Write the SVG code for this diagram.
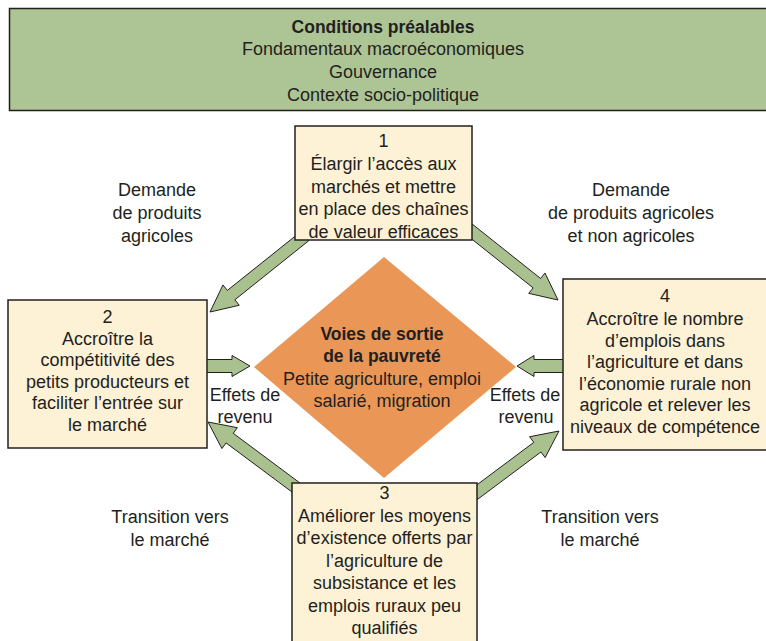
<svg xmlns="http://www.w3.org/2000/svg" width="766" height="641" viewBox="0 0 766 641">
<style>
text{font-family:"Liberation Sans",Arial,sans-serif;font-size:18px;fill:#231f20;text-anchor:middle}
.b{font-weight:bold;font-size:17.5px}
.box{fill:#fdf1d6;stroke:#231f20;stroke-width:1.5}
.arr{fill:#a9c18f;stroke:#231f20;stroke-width:1;stroke-linejoin:miter}
</style>
<rect width="766" height="641" fill="#ffffff"/>
<g id="preconditions">
<rect x="9.5" y="8.5" width="770" height="102" fill="#adc494" stroke="#231f20" stroke-width="1.5"/>
<text class="b" x="383" y="33">Conditions préalables</text>
<text x="383" y="55">Fondamentaux macroéconomiques</text>
<text x="383" y="78">Gouvernance</text>
<text x="383" y="101">Contexte socio-politique</text>
</g>
<g id="connectors">
<polygon class="arr" points="301.25,231.31 227.35,290.41 222.97,284.95 210,312 239.23,305.25 234.85,299.79 308.75,240.69"/>
<polygon class="arr" points="461.26,230.70 533.13,287.89 528.78,293.36 558,300 544.96,273.02 540.61,278.49 468.74,221.30"/>
<polygon class="arr" points="305.58,487.19 233.23,433.31 237.41,427.69 208,422 221.89,448.55 226.07,442.93 298.42,496.81"/>
<polygon class="arr" points="471.59,503.81 540.96,451.98 545.16,457.58 559,431 529.58,436.76 533.78,442.36 464.41,494.19"/>
<polygon class="arr" points="200,359.5 232,359.5 232,355.5 250,366 232,376.5 232,372.5 200,372.5"/>
<polygon class="arr" points="570,359.5 534,359.5 534,355.5 517,366 534,376.5 534,372.5 570,372.5"/>
</g>
<g id="labels">
<text x="157" y="196">Demande</text>
<text x="157" y="219">de produits</text>
<text x="157" y="242">agricoles</text>
<text x="631" y="196">Demande</text>
<text x="631" y="219">de produits agricoles</text>
<text x="631" y="242">et non agricoles</text>
<text x="245" y="401">Effets de</text>
<text x="245" y="423">revenu</text>
<text x="525" y="401">Effets de</text>
<text x="526" y="423">revenu</text>
<text x="170" y="523">Transition vers</text>
<text x="170" y="546">le marché</text>
<text x="600" y="523">Transition vers</text>
<text x="600" y="546">le marché</text>
</g>
<g id="center">
<polygon points="384,257 516,367 384,478 254,367" fill="#e99657"/>
<text class="b" x="382" y="340">Voies de sortie</text>
<text class="b" x="382" y="362">de la pauvreté</text>
<text x="382" y="385">Petite agriculture, emploi</text>
<text x="382" y="407">salarié, migration</text>
</g>
<g id="node1">
<rect class="box" x="295" y="126" width="177" height="114"/>
<text x="383.5" y="147">1</text>
<text x="383.5" y="170">Élargir l’accès aux</text>
<text x="383.5" y="192.5">marchés et mettre</text>
<text x="383.5" y="215">en place des chaînes</text>
<text x="383.5" y="237.5">de valeur efficaces</text>
</g>
<g id="node2">
<rect class="box" x="8" y="300" width="199" height="148"/>
<text x="107.5" y="323">2</text>
<text x="107.5" y="344.5">Accroître la</text>
<text x="107.5" y="366">compétitivité des</text>
<text x="107.5" y="387.5">petits producteurs et</text>
<text x="107.5" y="409">faciliter l’entrée sur</text>
<text x="107.5" y="430.5">le marché</text>
</g>
<g id="node4">
<rect class="box" x="563" y="279" width="212" height="171"/>
<text x="665" y="302">4</text>
<text x="665" y="325">Accroître le nombre</text>
<text x="665" y="346.5">d’emplois dans</text>
<text x="665" y="368">l’agriculture et dans</text>
<text x="665" y="389.5">l’économie rurale non</text>
<text x="665" y="411">agricole et relever les</text>
<text x="665" y="432.5">niveaux de compétence</text>
</g>
<g id="node3">
<rect class="box" x="292" y="483" width="185" height="170"/>
<text x="384.5" y="499">3</text>
<text x="384.5" y="521.5">Améliorer les moyens</text>
<text x="384.5" y="544">d’existence offerts par</text>
<text x="384.5" y="566.5">l’agriculture de</text>
<text x="384.5" y="589">subsistance et les</text>
<text x="384.5" y="611.5">emplois ruraux peu</text>
<text x="384.5" y="634">qualifiés</text>
</g>
</svg>
